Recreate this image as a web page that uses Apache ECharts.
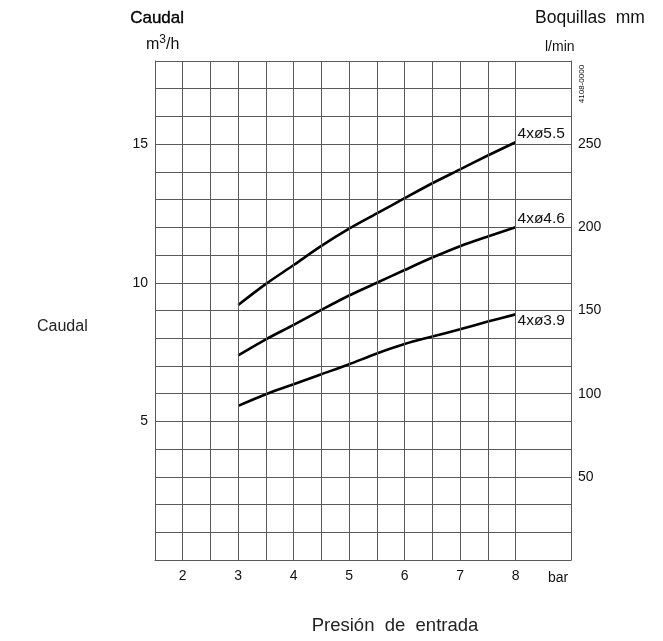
<!DOCTYPE html>
<html><head><meta charset="utf-8">
<script src="https://cdn.jsdelivr.net/npm/echarts@6/dist/echarts.min.js"></script>
<style>html,body{margin:0;padding:0;background:#fff}#c{width:663px;height:641px}</style>
</head><body><div id="c"></div>
<script>
// ---- data ----
const pressures = [3, 3.5, 4, 4.5, 5, 5.5, 6, 6.5, 7, 7.5, 8];
const flow55 = [9.20, 9.96, 10.64, 11.33, 11.95, 12.50, 13.05, 13.59, 14.09, 14.59, 15.07];
const flow46 = [7.38, 7.96, 8.48, 9.02, 9.54, 10.00, 10.46, 10.91, 11.32, 11.67, 12.00];
const flow39 = [5.56, 5.98, 6.34, 6.70, 7.06, 7.45, 7.79, 8.06, 8.32, 8.60, 8.86];
const seriesNames = ['4xø5.5', '4xø4.6', '4xø3.9'];
const xTickLabels = [2, 3, 4, 5, 6, 7, 8];
const xGridLines = [2, 2.5, 3, 3.5, 4, 4.5, 5, 5.5, 6, 6.5, 7, 7.5, 8];
const yLeftTickLabels = [5, 10, 15];
const yRightTickLabels = [50, 100, 150, 200, 250];

const FONT = '"Liberation Sans", Arial, Helvetica, sans-serif';
const GRID_COLOR = '#5a5a5a';
const chart = echarts.init(document.getElementById('c'), null, {renderer: 'canvas'});

function mk(vals) { return pressures.map((p, i) => [p, vals[i]]); }
const labelOffsets = [[0, -9], [0, -9], [0, 6]];
const allFlows = [flow55, flow46, flow39];

const series = allFlows.map((vals, i) => ({
  type: 'line', name: seriesNames[i], data: mk(vals), smooth: 0.3,
  symbol: 'none', silent: true, animation: false,
  lineStyle: {color: '#000', width: 2.6},
  endLabel: {show: true, formatter: seriesNames[i], fontFamily: FONT, fontSize: 15.5,
             color: '#111', distance: 2, offset: labelOffsets[i]}
}));
series.push({
  type: 'line', data: [], silent: true, animation: false,
  markLine: {
    silent: true, symbol: ['none', 'none'], animation: false,
    label: {show: false},
    lineStyle: {type: 'solid', color: GRID_COLOR, width: 1},
    data: xGridLines.map(v => ({xAxis: v}))
  }
});

chart.setOption({
  animation: false,
  backgroundColor: '#fff',
  grid: {left: 155, right: 92, top: 61, bottom: 81},
  xAxis: {
    type: 'value', min: 1.5, max: 9, interval: 0.5,
    splitLine: {show: false},
    axisLine: {show: true, lineStyle: {color: GRID_COLOR, width: 1}},
    axisTick: {show: false},
    axisLabel: {
      margin: 9, color: '#111', fontFamily: FONT, fontSize: 14,
      formatter: v => xTickLabels.includes(v) ? String(v) : ''
    }
  },
  yAxis: [{
    type: 'value', min: 0, max: 18, interval: 1,
    splitLine: {show: true, lineStyle: {color: GRID_COLOR, width: 1}},
    axisLine: {show: true, lineStyle: {color: GRID_COLOR, width: 1}},
    axisTick: {show: false},
    axisLabel: {
      margin: 7, color: '#111', fontFamily: FONT, fontSize: 14,
      formatter: v => yLeftTickLabels.includes(v) ? String(v) : ''
    }
  }, {
    type: 'value', position: 'right', min: 0, max: 300, interval: 50,
    splitLine: {show: false},
    axisLine: {show: true, lineStyle: {color: GRID_COLOR, width: 1}},
    axisTick: {show: false},
    axisLabel: {
      margin: 7, color: '#111', fontFamily: FONT, fontSize: 14,
      formatter: v => yRightTickLabels.includes(v) ? String(v) : ''
    }
  }],
  series: series,
  graphic: [
    {type: 'text', left: 130, top: 10, style: {text: 'Caudal', font: '17px ' + FONT, fill: '#000', stroke: '#000', lineWidth: 0.35}},
    {type: 'text', left: 146, top: 34, style: {
      text: '{a|m}{s|3}{a|/h}', font: '16px ' + FONT, fill: '#111',
      rich: {a: {fontSize: 16, fontFamily: FONT, fill: '#111', verticalAlign: 'bottom'},
             s: {fontSize: 12, fontFamily: FONT, fill: '#111', padding: [0, 0, 7, 0], verticalAlign: 'bottom'}}}},
    {type: 'text', left: 535, top: 9, style: {text: 'Boquillas  mm', font: '17.5px ' + FONT, fill: '#111'}},
    {type: 'text', left: 545, top: 40, style: {text: 'l/min', font: '14px ' + FONT, fill: '#111'}},
    {type: 'text', x: 582, y: 84, rotation: Math.PI / 2, style: {text: '4108-0000', font: '8px ' + FONT, fill: '#111', align: 'center', verticalAlign: 'middle'}},
    {type: 'text', left: 37, top: 319, style: {text: 'Caudal', font: '16px ' + FONT, fill: '#222'}},
    {type: 'text', x: 395, y: 626, style: {text: 'Presión  de  entrada', font: '18.5px ' + FONT, fill: '#222', align: 'center', verticalAlign: 'middle'}},
    {type: 'text', left: 548, top: 571, style: {text: 'bar', font: '14px ' + FONT, fill: '#111'}}
  ]
});
</script>
</body></html>
